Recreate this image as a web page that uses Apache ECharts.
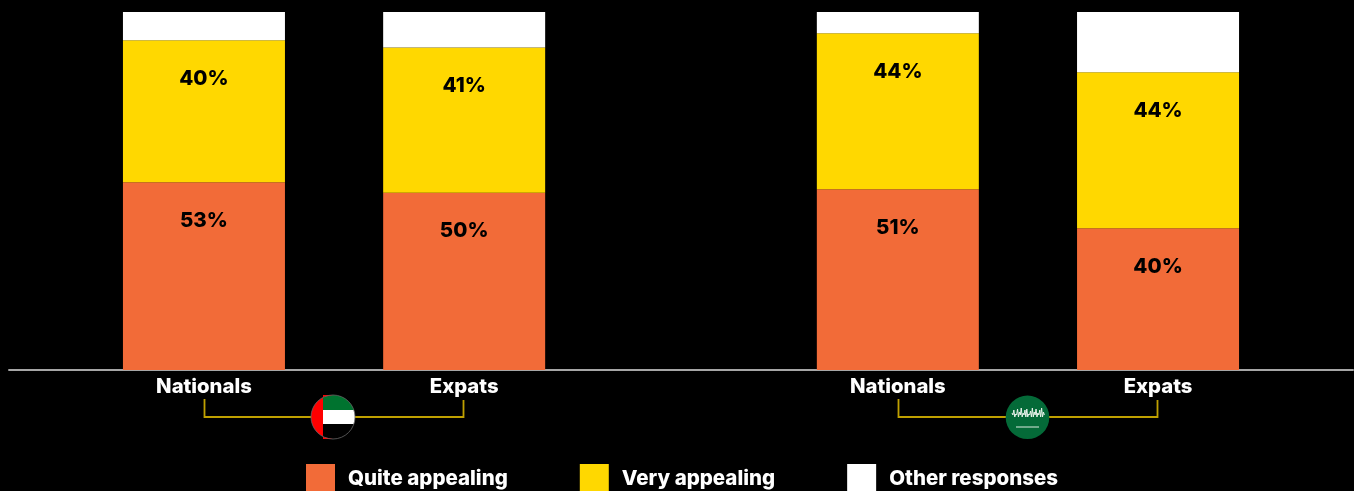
<!DOCTYPE html>
<html>
<head>
<meta charset="utf-8">
<title>Appeal by residency group</title>
<style>
  html, body { margin: 0; padding: 0; background: #000; }
  #chart { width: 1354px; height: 491px; }
</style>
<script src="https://cdn.jsdelivr.net/npm/echarts@6/dist/echarts.min.js"></script>
</head>
<body>
<div id="chart"></div>
<script>
// Survey groups; empty slots on the category axis keep the two countries apart
const categories = ['Nationals', 'Expats', 'Nationals', 'Expats'];
const slotIndex = [4, 10, 20, 26];
const SLOT_COUNT = 31;

const quiteAppealing = [53, 50, 51, 40];
const veryAppealing = [40, 41, 44, 44];
const otherResponses = [8, 10, 6, 17];

// Rounded shares add up to 101 in every column
const STACK_TOTAL = 101;

const FONT = 'Inter';
const ORANGE = '#F26B38';
const YELLOW = '#FFD800';
const GOLD = '#BFA000';

// Spread one row of values over the axis slots
function spread(values, blank) {
  const row = new Array(SLOT_COUNT).fill(blank);
  slotIndex.forEach((slot, i) => { row[slot] = values[i]; });
  return row;
}

const stackedSeries = (name, values, color, withLabel) => ({
  name,
  type: 'bar',
  stack: 'share',
  barWidth: 162,
  data: spread(values, null),
  itemStyle: { color },
  emphasis: { disabled: true },
  label: {
    show: withLabel,
    position: 'insideTop',
    distance: 28,
    color: '#000',
    fontFamily: FONT,
    fontWeight: 800,
    fontSize: 20.5,
    formatter: '{c}%'
  }
});

// Part of a disc that falls inside a rectangle, traced as a polygon
function discPart(cx, cy, r, x1, x2, y1, y2) {
  const right = [], left = [];
  const top = Math.max(y1, cy - r), bottom = Math.min(y2, cy + r);
  for (let k = 0; k <= 24; k++) {
    const y = top + (bottom - top) * k / 24;
    const half = Math.sqrt(Math.max(0, r * r - (y - cy) * (y - cy)));
    right.push([Math.min(x2, cx + half), y]);
    left.unshift([Math.max(x1, cx - half), y]);
  }
  return right.concat(left);
}

const part = (c, x1, x2, y1, y2, fill) => ({
  type: 'polygon',
  silent: true,
  shape: { points: discPart(c[0], c[1], c[2], x1, x2, y1, y2) },
  style: { fill }
});

const bracket = (xa, ya, xb, yb, yJoin) => ({
  type: 'polyline',
  silent: true,
  shape: { points: [[xa, ya], [xa, yJoin], [xb, yJoin], [xb, yb]] },
  style: { stroke: GOLD, lineWidth: 1.8, fill: null }
});

// United Arab Emirates flag disc
const uae = [333, 417, 22];
const uaeFlag = [
  part(uae, 323, 355, 395, 410, '#00732F'),
  part(uae, 323, 355, 410, 424, '#FFFFFF'),
  part(uae, 323, 355, 424, 439, '#000000'),
  part(uae, 311, 323, 395, 439, '#FF0000'),
  {
    type: 'circle',
    silent: true,
    shape: { cx: uae[0], cy: uae[1], r: uae[2] },
    style: { fill: null, stroke: '#666', lineWidth: 0.8 }
  }
];

// Saudi Arabia flag disc with its emblem reduced to fine strokes
const ksa = [1027.5, 417.3, 21.8];
const emblem = [];
const emblemHeights = [5, 8, 4, 9, 6, 10, 5, 8, 9, 4, 7, 10, 6, 9, 5, 8, 10, 6];
emblemHeights.forEach((h, i) => {
  const x = 1012 + i * 1.85;
  emblem.push([x, 418 - h], [x + 0.9, 418 - (h > 6 ? 1 : 3)]);
});
const ksaFlag = [
  {
    type: 'circle',
    silent: true,
    shape: { cx: ksa[0], cy: ksa[1], r: ksa[2] },
    style: { fill: '#046A38' }
  },
  {
    type: 'polyline',
    silent: true,
    shape: { points: emblem },
    style: { stroke: '#E8F2EA', lineWidth: 1, fill: null }
  },
  {
    type: 'line',
    silent: true,
    shape: { x1: 1016, y1: 427, x2: 1039, y2: 427 },
    style: { stroke: '#DDEBE0', lineWidth: 1 }
  }
];

const chart = echarts.init(document.getElementById('chart'), null, { renderer: 'canvas' });
chart.setOption({
  backgroundColor: '#000',
  animation: false,
  grid: { left: 8.8, top: 12, width: 1344.4, height: 358, containLabel: false },
  xAxis: {
    type: 'category',
    data: spread(categories, ''),
    axisTick: { show: false },
    axisLine: { show: true, lineStyle: { color: '#DDDDDD', width: 1.5 } },
    axisLabel: {
      interval: 0,
      margin: 7,
      color: '#fff',
      fontFamily: FONT,
      fontWeight: 800,
      fontSize: 20.3
    }
  },
  yAxis: { type: 'value', min: 0, max: STACK_TOTAL, show: false },
  legend: {
    left: 306,
    top: 464,
    padding: 0,
    itemWidth: 29,
    itemHeight: 29,
    itemGap: 72,
    icon: 'rect',
    selectedMode: false,
    textStyle: { color: '#fff', fontFamily: FONT, fontWeight: 800, fontSize: 20.5, padding: [2, 0, 0, 8] }
  },
  series: [
    stackedSeries('Quite appealing', quiteAppealing, ORANGE, true),
    stackedSeries('Very appealing', veryAppealing, YELLOW, true),
    stackedSeries('Other responses', otherResponses, '#FFFFFF', false)
  ],
  graphic: [
    bracket(204.5, 399, 463.5, 400, 417),
    bracket(898.5, 399, 1157.5, 400, 417),
    ...uaeFlag,
    ...ksaFlag
  ]
});
</script>
</body>
</html>
